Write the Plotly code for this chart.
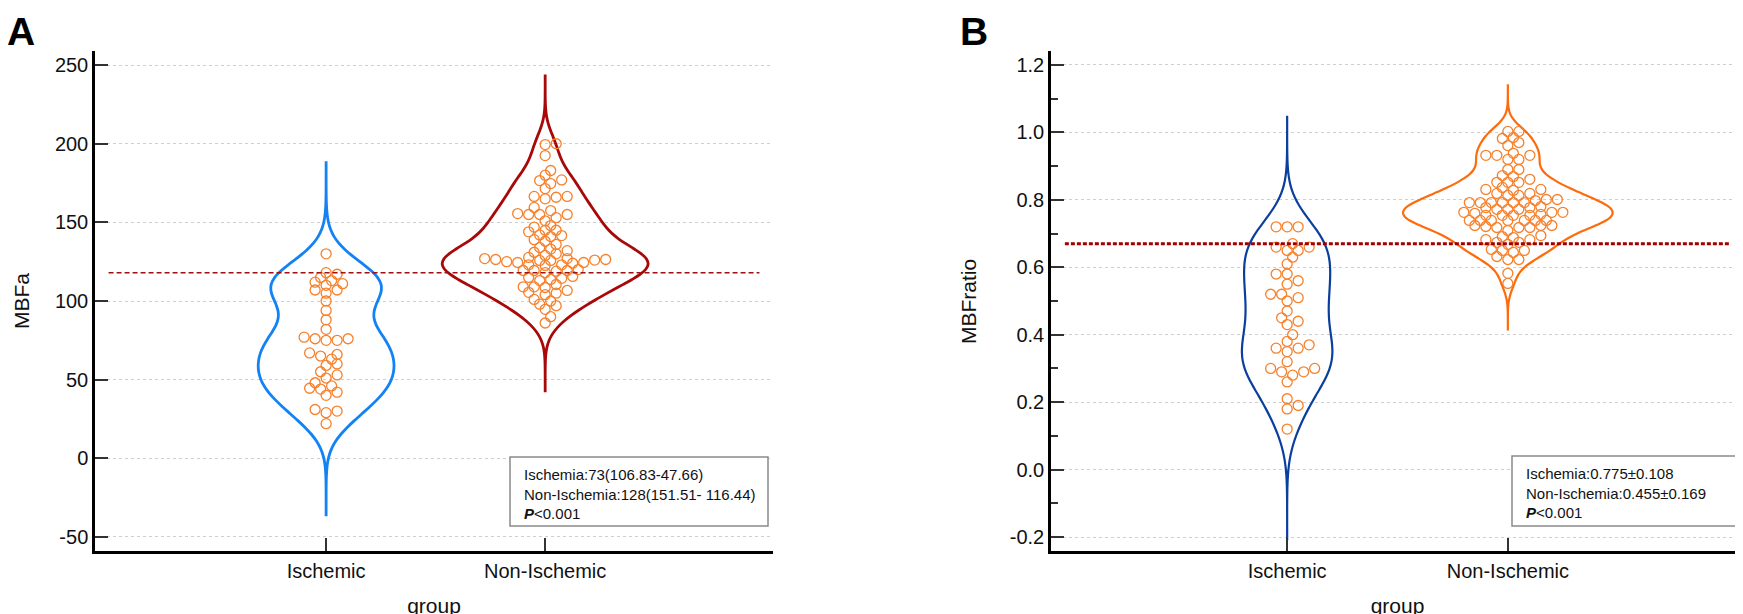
import numpy as np
import plotly.graph_objects as go

W, H = 1743, 614

GROUPS = ["Ischemic", "Non-Ischemic"]

# panel A: MBFa
MBFA_ISCHEMIC = [130, 118, 117, 115, 113, 112, 111, 110, 107, 107, 105, 100, 94, 88, 82,
                 77, 76, 76, 75, 75, 67, 66, 65, 63, 60, 59, 55, 53, 51, 48, 46, 44.5,
                 44, 42, 40, 31, 30, 29, 22]
MBFA_NON_ISCHEMIC = [200, 199.5, 192.5, 183, 180, 177, 176.6, 174.7, 171.5, 166.5, 166.5,
                     166, 165, 159.5, 157.5, 155.6, 155, 155, 155, 153, 151, 148, 147, 145,
                     145, 144, 142, 141.6, 141, 139, 138, 136, 134, 133, 132, 131, 130, 129,
                     127.7, 127, 127, 126.4, 126.4, 125.8, 125.8, 126, 125, 124.5, 124.5,
                     124, 123, 123, 122.6, 120, 119.4, 119.4, 119.4, 119, 118, 115.6, 115,
                     114.4, 113.7, 113, 110.5, 109, 109, 108.6, 106.7, 105.5, 105, 104, 101,
                     100, 98, 97, 94.7, 90, 86]
MBFA_CUTOFF = 118
MBFA_TICKS = [-50, 0, 50, 100, 150, 200, 250]
MBFA_NOTE = ["Ischemia:73(106.83-47.66)",
             "Non-Ischemia:128(151.51- 116.44)",
             "<b><i>P</i></b>&lt;0.001"]

# panel B: MBFratio
RATIO_ISCHEMIC = [0.72, 0.72, 0.72, 0.67, 0.66, 0.66, 0.65, 0.65, 0.63, 0.61, 0.58, 0.58,
                  0.56, 0.55, 0.52, 0.52, 0.51, 0.50, 0.47, 0.45, 0.44, 0.43, 0.40, 0.38,
                  0.37, 0.36, 0.36, 0.35, 0.32, 0.30, 0.30, 0.29, 0.29, 0.28, 0.26, 0.21,
                  0.19, 0.18, 0.12]
RATIO_NON_ISCHEMIC = [1.003, 1.003, 0.982, 0.985, 0.961, 0.970, 0.938, 0.932, 0.932, 0.932,
                      0.920, 0.920, 0.890, 0.890, 0.869, 0.872, 0.852, 0.852, 0.852, 0.861,
                      0.828, 0.831, 0.831, 0.837, 0.813, 0.813, 0.819, 0.819,
                      0.792, 0.792, 0.792, 0.792, 0.792, 0.792, 0.798, 0.801, 0.801,
                      0.772, 0.772, 0.772, 0.777, 0.777, 0.780,
                      0.754, 0.754, 0.754, 0.754, 0.757, 0.760, 0.763, 0.763, 0.763,
                      0.739, 0.739, 0.739, 0.739, 0.739, 0.739, 0.739,
                      0.718, 0.718, 0.721, 0.718, 0.724, 0.724, 0.724, 0.709,
                      0.682, 0.682, 0.694, 0.688, 0.691, 0.668, 0.674, 0.674,
                      0.644, 0.650, 0.650, 0.653, 0.623, 0.623, 0.632, 0.582, 0.552]
RATIO_CUTOFF = 0.67
RATIO_TICKS = [-0.2, 0.0, 0.2, 0.4, 0.6, 0.8, 1.0, 1.2]
RATIO_NOTE = ["Ischemia:0.775±0.108",
              "Non-Ischemia:0.455±0.169",
              "<b><i>P</i></b>&lt;0.001"]

FONT = "Liberation Sans, Arial, sans-serif"
POINT_COLOR = "#f7812b"
PLOT_TOP, PLOT_BOTTOM = 43, 543
SPAN_BW = 4.5


def px_x(p):
    return p / W


def px_y(p):
    return 1 - p / H


def silverman(values):
    v = np.asarray(values, float)
    q75, q25 = np.percentile(v, [75, 25])
    s = min(v.std(ddof=1), (q75 - q25) / 1.34)
    return 0.9 * s * len(v) ** -0.2


def swarm(values, ppu_y, ppu_x, d=7.2, step=5.5):
    # simple beeswarm in pixel space, centred on the category
    vals = np.asarray(values, float)
    out = np.zeros(len(vals))
    placed = []
    for i in np.argsort(vals):
        y = vals[i] * ppu_y
        k = 0
        pos = None
        while pos is None:
            cands = [0.0] if k == 0 else [k * step, -k * step]
            for c in cands:
                if all((c - px) ** 2 + (y - py) ** 2 >= d * d for px, py in placed):
                    pos = c
                    break
            k += 1
        placed.append((pos, y))
        out[i] = pos / ppu_x
    return out


def add_panel(fig, n, series, colors, widths, line_w, yrange, xrange, dom_px,
              ticks, ticktext, title, title_x, cutoff, cut_style, note, box_px,
              letter, letter_x, minor=None):
    xa = "x" if n == 1 else f"x{n}"
    ya = "y" if n == 1 else f"y{n}"
    ppu_y = (PLOT_BOTTOM - PLOT_TOP) / (yrange[1] - yrange[0])
    ppu_x = (dom_px[1] - dom_px[0]) / (xrange[1] - xrange[0])

    for i, (vals, col, wd) in enumerate(zip(series, colors, widths)):
        bw = silverman(vals)
        fig.add_trace(go.Violin(
            y=vals, x0=i, xaxis=xa, yaxis=ya, width=wd, scalemode="width",
            scalegroup=f"p{n}g{i}", bandwidth=bw, spanmode="manual",
            span=[min(vals) - SPAN_BW * bw, max(vals) + SPAN_BW * bw],
            line=dict(color=col, width=line_w), fillcolor="rgba(0,0,0,0)",
            points=False, box_visible=False, meanline_visible=False,
            showlegend=False, hoverinfo="y",
        ))
        off = swarm(vals, ppu_y, ppu_x)
        fig.add_trace(go.Scatter(
            x=i + off, y=vals, xaxis=xa, yaxis=ya, mode="markers",
            marker=dict(symbol="circle-open", size=10, color=POINT_COLOR,
                        line=dict(width=1.3, color=POINT_COLOR)),
            showlegend=False, hoverinfo="y",
        ))

    fig.add_shape(type="line", xref=f"{xa} domain", yref=ya, x0=0.02, x1=0.98,
                  y0=cutoff, y1=cutoff, line=cut_style, layer="above")

    axis_font = dict(family=FONT, size=20, color="#111")
    title_font = dict(family=FONT, size=21, color="#111")
    fig.update_layout({
        f"xaxis{'' if n == 1 else n}": dict(
            domain=[px_x(dom_px[0]), px_x(dom_px[1])], range=xrange, anchor=ya,
            tickvals=[0, 1], ticktext=GROUPS, ticks="inside", ticklen=13, tickwidth=2,
            tickcolor="#333", showline=True, linewidth=2.5, linecolor="#000",
            showgrid=False, zeroline=False, tickfont=axis_font,
            title=dict(text="group", font=title_font, standoff=18),
            automargin=False,
        ),
        f"yaxis{'' if n == 1 else n}": dict(
            domain=[px_y(PLOT_BOTTOM), px_y(PLOT_TOP)], range=yrange, anchor=xa,
            tickvals=ticks, ticktext=ticktext, ticks="inside", ticklen=13, tickwidth=2,
            tickcolor="#333", showline=True, linewidth=2.5, linecolor="#000",
            showgrid=True, gridcolor="#cfcfcf", griddash="dot", gridwidth=1,
            zeroline=False, tickfont=axis_font, minor=minor or {},
            automargin=False,
        ),
    })

    # y title as a rotated annotation so it can sit right at the figure edge
    fig.add_annotation(xref="paper", yref="paper", x=px_x(title_x),
                       y=px_y((PLOT_TOP + PLOT_BOTTOM) / 2), text=title, textangle=-90,
                       xanchor="center", yanchor="middle", showarrow=False,
                       font=title_font)

    fig.add_shape(type="rect", xref="paper", yref="paper",
                  x0=px_x(box_px[0]), x1=px_x(box_px[1]),
                  y0=px_y(box_px[3]), y1=px_y(box_px[2]),
                  line=dict(color="#8a8a8a", width=1.5), fillcolor="white", layer="above")
    fig.add_annotation(xref="paper", yref="paper", x=px_x(box_px[0] + 12),
                       y=px_y(box_px[2] + 7), xanchor="left", yanchor="top",
                       text="<br>".join(note), align="left", showarrow=False,
                       font=dict(family=FONT, size=15, color="#111"))
    fig.add_annotation(xref="paper", yref="paper", x=px_x(letter_x), y=px_y(0),
                       xanchor="left", yanchor="top", text=f"<b>{letter}</b>",
                       showarrow=False, font=dict(family=FONT, size=39, color="#000"))


fig = go.Figure()

add_panel(
    fig, 1, [MBFA_ISCHEMIC, MBFA_NON_ISCHEMIC], ["#1282f5", "#a80808"], [0.62, 0.94], 2.8,
    [-59, 259], [-1.055, 2.04], (87, 765), MBFA_TICKS, [str(t) for t in MBFA_TICKS],
    "MBFa", 13, MBFA_CUTOFF, dict(color="#a01010", width=1.5, dash="5px,3px"), MBFA_NOTE,
    (502, 760, 449, 518), "A", -3,
)
add_panel(
    fig, 2, [RATIO_ISCHEMIC, RATIO_NON_ISCHEMIC], ["#0b3f9e", "#ff6a0a"], [0.41, 0.95], 2.2,
    [-0.2415, 1.2415], [-1.07, 2.07], (1043, 1736), RATIO_TICKS,
    [f"{t:.1f}" for t in RATIO_TICKS],
    "MBFratio", 960, RATIO_CUTOFF, dict(color="#a00000", width=3, dash="4px,2px"),
    RATIO_NOTE, (1504, 1737, 448, 518), "B", 950,
    minor=dict(dtick=0.1, ticks="inside", ticklen=7, tickwidth=1.5, tickcolor="#333",
               showgrid=False),
)

fig.update_layout(
    width=W, height=H, margin=dict(l=0, r=0, t=0, b=0),
    paper_bgcolor="white", plot_bgcolor="white", violinmode="overlay",
    showlegend=False, font=dict(family=FONT),
)

fig.write_html("out.html")
